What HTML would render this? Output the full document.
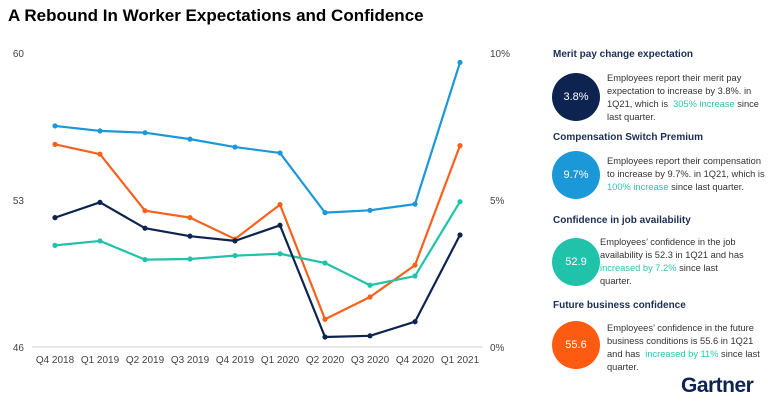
<!DOCTYPE html>
<html><head><meta charset="utf-8"><style>
body{margin:0;width:768px;height:403px;background:#fff;font-family:"Liberation Sans",sans-serif;overflow:hidden;position:relative}
.t{position:absolute}
h1{position:absolute;left:8px;top:6px;margin:0;font-size:17px;font-weight:bold;color:#000}
.hd{position:absolute;left:553px;font-size:10px;font-weight:bold;color:#1b2f55}
.c{position:absolute;left:552px;width:48px;height:48px;border-radius:50%;color:#fff;font-size:11px;line-height:48px;text-align:center}
.p{position:absolute;font-size:9.3px;line-height:13px;color:#333}
.g{color:#2ec4a8}
</style></head><body>
<h1>A Rebound In Worker Expectations and Confidence</h1>
<svg id="ch" width="540" height="380" style="position:absolute;left:0;top:0" font-family="Liberation Sans, sans-serif" font-size="10" fill="#444"></svg>

<div class="hd" style="top:49px">Merit pay change expectation</div>
<div class="c" style="top:73px;background:#0d2450">3.8%</div>
<div class="p" style="left:607px;top:72px;width:160px">Employees report their merit pay expectation to increase by 3.8%. in 1Q21, which is &nbsp;<span class="g">305% increase</span> since last quarter.</div>

<div class="hd" style="top:132px">Compensation Switch Premium</div>
<div class="c" style="top:151px;background:#1a98d8">9.7%</div>
<div class="p" style="left:607px;top:155px;width:160px">Employees report their compensation to increase by 9.7%. in 1Q21, which is <span class="g">100% increase</span> since last quarter.</div>

<div class="hd" style="top:215px">Confidence in job availability</div>
<div class="c" style="top:238px;background:#20c3a9">52.9</div>
<div class="p" style="left:600px;top:236px;width:145px">Employees’ confidence in the job availability is 52.3 in 1Q21 and has <span class="g">increased by 7.2%</span> since last quarter.</div>

<div class="hd" style="top:300px">Future business confidence</div>
<div class="c" style="top:321px;background:#fd5a12">55.6</div>
<div class="p" style="left:607px;top:322px;width:160px">Employees’ confidence in the future business conditions is 55.6 in 1Q21 and has &nbsp;<span class="g">increased by 11%</span> since last quarter.</div>

<div class="t" style="left:681px;top:374px;font-size:21px;font-weight:bold;color:#0d2450;letter-spacing:-0.5px">Gartner</div>

<script>
const categories=["Q4 2018","Q1 2019","Q2 2019","Q3 2019","Q4 2019","Q1 2020","Q2 2020","Q3 2020","Q4 2020","Q1 2021"];
const compensationPct=[7.52,7.35,7.29,7.07,6.8,6.6,4.57,4.65,4.86,9.68];
const businessConf=[55.65,55.18,52.49,52.16,51.14,52.78,47.32,48.38,49.90,55.59];
const meritPct=[4.40,4.92,4.04,3.77,3.61,4.14,0.34,0.38,0.86,3.81];
const jobConf=[50.84,51.05,50.16,50.19,50.35,50.44,50.0,48.94,49.38,52.92];
const leftTicks=[46,53,60];
const rightTicks=[0,5,10];
const NS="http://www.w3.org/2000/svg";
const svg=document.getElementById('ch');
const top_=53,bot=347,x0=55,x1=460;
const xs=i=>x0+i*(x1-x0)/(categories.length-1);
const yL=v=>bot-(v-46)/(60-46)*(bot-top_);
const yR=v=>bot-v/10*(bot-top_);
function mk(t,a){const e=document.createElementNS(NS,t);for(const k in a)e.setAttribute(k,a[k]);svg.appendChild(e);return e;}
const base=mk('line',{x1:32,x2:483,y1:bot,y2:bot,stroke:'#d0d0d0'});


leftTicks.forEach(v=>{const t=mk('text',{x:24,y:yL(v)+4,'text-anchor':'end'});t.textContent=v;

});
rightTicks.forEach(v=>{const t=mk('text',{x:490,y:yR(v)+4});t.textContent=v+'%';

});
categories.forEach((c,i)=>{const t=mk('text',{x:xs(i),y:363,'text-anchor':'middle'});t.textContent=c;

});
function series(vals,f,col,name){
 const p=mk('polyline',{points:vals.map((v,i)=>xs(i)+','+f(v)).join(' '),fill:'none',stroke:col,'stroke-width':2.2,'stroke-linejoin':'round'});
 
 
 vals.forEach((v,i)=>{const c=mk('circle',{cx:xs(i),cy:f(v),r:2.6,fill:col});
 
 });
}
series(compensationPct,yR,'#1a98d8','compensation');
series(businessConf,yL,'#f4621d','business');
series(jobConf,yL,'#20c3a9','job');
series(meritPct,yR,'#0d2450','merit');
</script>
</body></html>
